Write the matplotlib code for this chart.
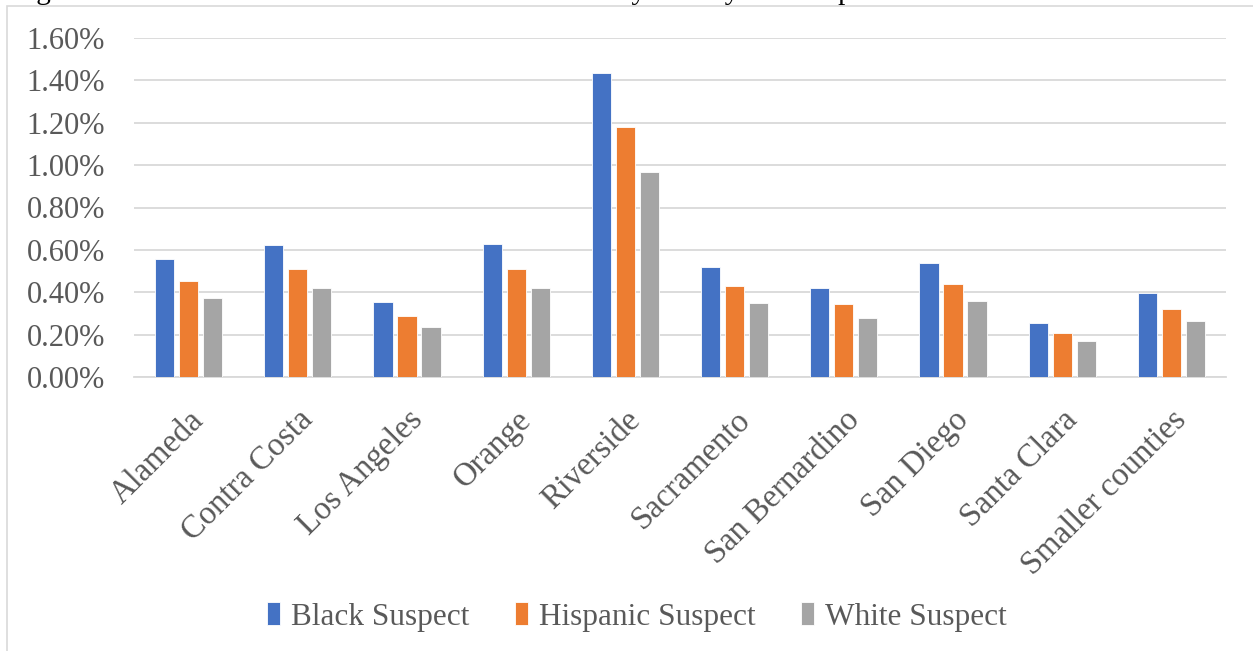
import numpy as np
import matplotlib
matplotlib.use('Agg')
from matplotlib import pyplot as plt
from matplotlib.patches import Rectangle
from matplotlib.ticker import FuncFormatter

counties = ['Alameda', 'Contra Costa', 'Los Angeles', 'Orange', 'Riverside',
            'Sacramento', 'San Bernardino', 'San Diego', 'Santa Clara', 'Smaller counties']
# predicted probability of a death sentence, in percent
black = [0.555, 0.621, 0.355, 0.628, 1.437, 0.520, 0.418, 0.539, 0.253, 0.396]
hispanic = [0.453, 0.511, 0.289, 0.512, 1.178, 0.428, 0.343, 0.441, 0.206, 0.322]
white = [0.373, 0.418, 0.237, 0.418, 0.967, 0.349, 0.280, 0.359, 0.168, 0.262]
series = ['Black Suspect', 'Hispanic Suspect', 'White Suspect']
colors = ['#4472C4', '#ED7D31', '#A5A5A5']
title = 'Figure 6: Predicted Probabilities of Death Sentence by County and Suspect Race'

plt.rcParams['font.family'] = ['Liberation Serif', 'DejaVu Serif']
W, H = 1253, 651
fig = plt.figure(figsize=(W / 100, H / 100), dpi=100)

# caption sits just above the chart area and runs off the top edge
fig.text(12 / W, 1 + 1 / H, title, fontsize=21, color='black', ha='left', va='baseline')

# chart area border (left and top edges visible)
fig.patches.append(Rectangle((7 / W, -0.1), 1.2, 1 - 6 / H + 0.1, transform=fig.transFigure,
                             fill=False, edgecolor='#D9D9D9', lw=1.2))

ax = fig.add_axes([134 / W, 1 - 377 / H, (1226 - 134) / W, (377 - 38) / H])
x = np.arange(len(counties))
width = 0.175
step = 0.22
for i, (vals, name, c) in enumerate(zip([black, hispanic, white], series, colors)):
    ax.bar(x + (i - 1) * step, vals, width, color=c, label=name,
           edgecolor='white', linewidth=0.6, zorder=3)

ax.set_xlim(-0.5, len(counties) - 0.5)
ax.set_ylim(0, 1.6)
ax.set_yticks(np.arange(0, 1.61, 0.2))
ax.yaxis.set_major_formatter(FuncFormatter(lambda v, p: f'{v:.2f}%'))
ax.grid(axis='y', color='#D9D9D9', lw=1.3, zorder=0)
for s in ['top', 'right', 'left']:
    ax.spines[s].set_visible(False)
ax.spines['bottom'].set_color('#D9D9D9')
ax.spines['bottom'].set_linewidth(1.3)
ax.tick_params(length=0)
ax.tick_params(axis='y', pad=21, labelsize=22, labelcolor='#595959')
ax.set_xticks(x)
ax.set_xticklabels(counties, rotation=45, ha='right', rotation_mode='anchor',
                   fontsize=23.5, color='#595959')
ax.tick_params(axis='x', pad=20)

fig.legend(loc='center', bbox_to_anchor=(637 / W, 1 - 617 / H), ncol=3, frameon=False,
           fontsize=22.5, labelcolor='#595959', handlelength=0.42, handleheight=0.75,
           handletextpad=0.35, columnspacing=1.45)

fig.savefig('out.png', dpi=100)
